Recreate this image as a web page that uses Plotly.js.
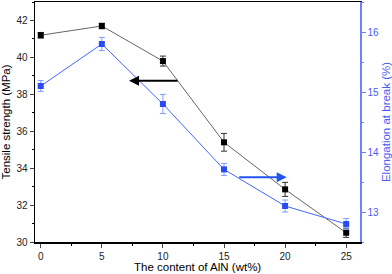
<!DOCTYPE html>
<html><head><meta charset="utf-8">
<script src="https://cdn.plot.ly/plotly-3.0.1.min.js"></script>
<style>html,body{margin:0;padding:0;background:#fff}#c{width:392px;height:274px}</style>
</head><body><div id="c"></div>
<script>
const content = [0, 5, 10, 15, 20, 25];
const tensile = [41.2, 41.7, 39.8, 35.4, 32.85, 30.5];
const tensileErr = [0.15, 0.15, 0.27, 0.48, 0.38, 0.25];
const elongation = [15.1, 15.8, 14.8, 13.71, 13.1, 12.8];
const elongationErr = [0.09, 0.11, 0.16, 0.1, 0.1, 0.09];

const blue = '#2a4bf0';
const axisBlue = '#6f80ff';
const font = 'Liberation Sans, Arial, sans-serif';

const traces = [
  {x: content, y: tensile, type: 'scatter', mode: 'lines+markers', yaxis: 'y',
   line: {color: '#666666', width: 1}, marker: {symbol: 'square', size: 6, color: '#000'},
   error_y: {type: 'data', array: tensileErr, visible: true, color: '#333', thickness: 1, width: 3}},
  {x: content, y: elongation, type: 'scatter', mode: 'lines+markers', yaxis: 'y2',
   line: {color: '#4466ff', width: 1}, marker: {symbol: 'square', size: 6, color: blue},
   error_y: {type: 'data', array: elongationErr, visible: true, color: '#7f9bff', thickness: 1, width: 3}}
];

const layout = {
  width: 392, height: 274, showlegend: false,
  margin: {l: 35, r: 32, t: 2, b: 32},
  paper_bgcolor: '#fff', plot_bgcolor: '#fff',
  font: {family: font, size: 10, color: '#222'},
  xaxis: {range: [-0.47, 26.13], tickvals: content, ticks: 'outside', ticklen: 4, tickwidth: 1,
          showline: true, linecolor: '#000', linewidth: 1.5, mirror: true, showgrid: false, zeroline: false,
          minor: {dtick: 2.5, ticks: 'outside', ticklen: 2, tickcolor: '#000'},
          tickfont: {size: 10, color: '#222'}},
  yaxis: {range: [30, 43], dtick: 2, tick0: 30, ticks: 'outside', ticklen: 4, showline: true,
          linecolor: '#000', linewidth: 1.5, showgrid: false, zeroline: false,
          minor: {dtick: 1, ticks: 'outside', ticklen: 2, tickcolor: '#000'},
          tickfont: {size: 10, color: '#222'},
          title: {text: 'Tensile strength (MPa)', font: {size: 11.5, color: '#000'}}},
  yaxis2: {range: [12.5, 16.5], dtick: 1, tick0: 13, overlaying: 'y', side: 'right', ticks: 'outside', ticklen: 4,
           showline: true, linecolor: axisBlue, tickcolor: axisBlue, linewidth: 1.5, showgrid: false, zeroline: false,
           minor: {dtick: 0.5, ticks: 'outside', ticklen: 2, tickcolor: axisBlue},
           tickfont: {size: 10, color: '#4a5cf5'},
           title: {text: 'Elongation at break (%)', font: {size: 11.5, color: '#4a5cf5'}}},
  annotations: [
    {x: 7.23, y: 38.73, ax: 11.32, ay: 38.73, xref: 'x', yref: 'y', axref: 'x', ayref: 'y',
     text: '', showarrow: true, arrowhead: 2, arrowsize: 1, arrowwidth: 2, arrowcolor: '#000'},
    {x: 20.13, y: 13.58, ax: 16.12, ay: 13.58, xref: 'x', yref: 'y2', axref: 'x', ayref: 'y2',
     text: '', showarrow: true, arrowhead: 2, arrowsize: 1, arrowwidth: 2, arrowcolor: '#2255ee'},
    {x: 0.5, y: 0, xref: 'paper', yref: 'paper', yanchor: 'top', xanchor: 'center', yshift: -17,
     text: 'The content of AlN (wt%)', showarrow: false, font: {size: 11.5, color: '#000'}}
  ]
};
Plotly.newPlot('c', traces, layout, {displayModeBar: false, staticPlot: true});
</script></body></html>
